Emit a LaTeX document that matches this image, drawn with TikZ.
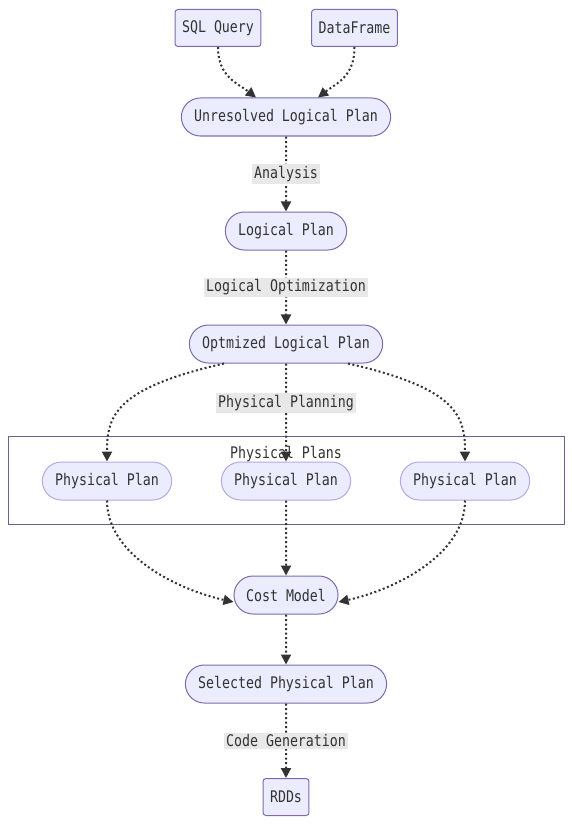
\documentclass[tikz,border=0pt]{standalone}
\usepackage{fontspec}
\newfontfamily\diagfont[FakeStretch=0.83]{DejaVu Sans Mono}
\usepackage{tikz}
\usetikzlibrary{
    arrows.meta,
    shapes.misc,
    positioning,
    calc
}
\definecolor{nodefill}{HTML}{ECECFF}
\definecolor{nodeline}{HTML}{7D6AB0}
\definecolor{innerline}{HTML}{B6A6E6}
\definecolor{boxline}{HTML}{6A6090}
\definecolor{labelbg}{HTML}{E8E8E8}
\definecolor{ink}{HTML}{333333}
\tikzstyle{source} = [
    rectangle,
    rounded corners=3pt,
    draw=nodeline,
    line width=1pt,
    fill=nodefill,
    minimum height=37pt,
    inner xsep=7pt,
    text=ink,
    font=\diagfont\fontsize{16}{18}\selectfont
]
\tikzstyle{stage} = [
    rounded rectangle,
    draw=nodeline,
    line width=1pt,
    fill=nodefill,
    minimum height=38pt,
    inner xsep=11pt,
    text=ink,
    font=\diagfont\fontsize{16}{18}\selectfont
]
\tikzstyle{plan} = [
    stage,
    draw=innerline
]
\tikzstyle{step label} = [
    fill=labelbg,
    inner sep=2pt,
    text=ink,
    font=\diagfont\fontsize{16}{18}\selectfont
]
\tikzstyle{flow} = [
    -{Triangle[length=10pt,width=10pt]},
    draw=ink,
    line width=2pt,
    dash pattern=on 2pt off 2.5pt
]

\begin{document}
\begin{tikzpicture}[x=1pt, y=-1pt]
        \useasboundingbox (0,0) rectangle (572,824);

        % inputs (top)
        \node[source] (sql) at (218,28) {SQL Query};
        \node[source] (df) at (354.5,28) {DataFrame};

        % logical side
        \node[stage] (unresolved) at (286,117) {Unresolved Logical Plan};
        \node[stage] (logical) at (286,231) {Logical Plan};
        \node[stage] (optimized) at (286,344) {Optmized Logical Plan};

        % physical plans group
        \node[draw=boxline, line width=1pt, minimum width=556pt, minimum height=88pt,
              inner sep=0pt] (group) at (286,480) {};
        \node[text=ink, font=\diagfont\fontsize{16}{18}\selectfont] (grouptitle) at (286,454) {Physical Plans};
        \node[plan] (phys1) at (107,481) {Physical Plan};
        \node[plan] (phys2) at (286,481) {Physical Plan};
        \node[plan] (phys3) at (465,481) {Physical Plan};

        % selection and output
        \node[stage] (cost) at (286,595) {Cost Model};
        \node[stage] (selected) at (286,684) {Selected Physical Plan};
        \node[source] (rdds) at (286,797) {RDDs};

        % inputs into the unresolved plan
        \draw[flow] (sql.south) .. controls +(0,30) and +(-18,-14) .. ([xshift=-30pt]unresolved.north);
        \draw[flow] (df.south) .. controls +(0,30) and +(18,-14) .. ([xshift=32pt]unresolved.north);

        % logical chain
        \draw[flow] (unresolved) -- node[step label] {Analysis} (logical);
        \draw[flow] (logical) -- node[step label] {Logical Optimization} (optimized);

        % physical planning
        \draw[flow] (optimized) -- node[step label, pos=0.4] {Physical Planning} (phys2);
        \draw[flow] ([xshift=-62pt]optimized.south) .. controls +(-110,25) and +(0,-45) .. (phys1.north);
        \draw[flow] ([xshift=62pt]optimized.south) .. controls +(110,25) and +(0,-45) .. (phys3.north);

        % into the cost model
        \draw[flow] (phys1.south) .. controls +(0,55) and +(-55,-12) .. ([yshift=-7pt]cost.west);
        \draw[flow] (phys3.south) .. controls +(0,55) and +(55,-12) .. ([yshift=-7pt]cost.east);
        \draw[flow] (phys2) -- (cost);

        % final steps
        \draw[flow] (cost) -- (selected);
        \draw[flow] (selected) -- node[step label] {Code Generation} (rdds);
    \end{tikzpicture}
\end{document}
